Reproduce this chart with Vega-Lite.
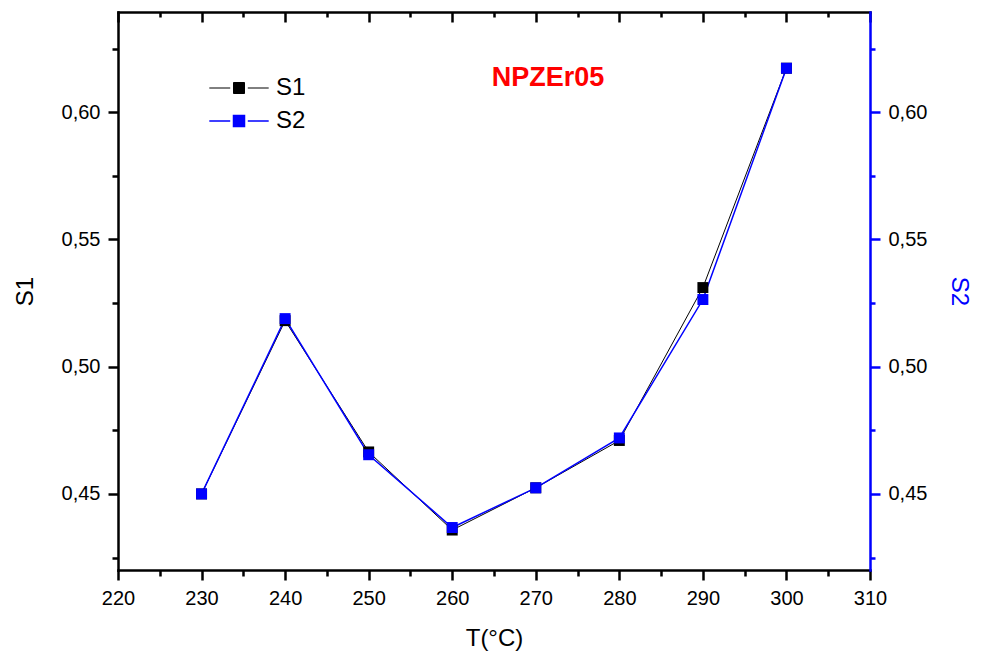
{
  "$schema": "https://vega.github.io/schema/vega-lite/v6.json",
  "width": 752,
  "height": 558,
  "autosize": "none",
  "padding": {"left": 118, "top": 12, "right": 111, "bottom": 83},
  "background": "white",
  "title": {
    "text": "NPZEr05",
    "color": "#ff0000",
    "fontSize": 27,
    "fontWeight": "bold",
    "font": "Liberation Sans",
    "anchor": "middle",
    "frame": "group",
    "baseline": "middle",
    "offset": 0,
    "dx": 54,
    "dy": 94
  },
  "data": {
    "values": [
      {"T": 230, "value": 0.4500, "series": "S1"},
      {"T": 240, "value": 0.5181, "series": "S1"},
      {"T": 250, "value": 0.4665, "series": "S1"},
      {"T": 260, "value": 0.4358, "series": "S1"},
      {"T": 270, "value": 0.4524, "series": "S1"},
      {"T": 280, "value": 0.4710, "series": "S1"},
      {"T": 290, "value": 0.5311, "series": "S1"},
      {"T": 300, "value": 0.6173, "series": "S1"},
      {"T": 230, "value": 0.4500, "series": "S2"},
      {"T": 240, "value": 0.5189, "series": "S2"},
      {"T": 250, "value": 0.4654, "series": "S2"},
      {"T": 260, "value": 0.4368, "series": "S2"},
      {"T": 270, "value": 0.4524, "series": "S2"},
      {"T": 280, "value": 0.4720, "series": "S2"},
      {"T": 290, "value": 0.5264, "series": "S2"},
      {"T": 300, "value": 0.6173, "series": "S2"}
    ]
  },
  "config": {
    "font": "Liberation Sans",
    "view": {"stroke": null},
    "axis": {
      "grid": false,
      "labelFont": "Liberation Sans",
      "titleFont": "Liberation Sans",
      "labelFontSize": 20,
      "titleFontSize": 24,
      "titleFontWeight": "normal",
      "labelColor": "#000000",
      "titleColor": "#000000",
      "domainColor": "#000000",
      "tickColor": "#000000",
      "domainWidth": 2.5,
      "tickWidth": 2.5,
      "domainCap": "square"
    }
  },
  "resolve": {"axis": {"x": "independent", "y": "independent"}},
  "layer": [
    {
      "mark": {"type": "line", "clip": false},
      "encoding": {
        "x": {
          "field": "T", "type": "quantitative",
          "scale": {"domain": [220, 310], "nice": false, "zero": false},
          "axis": {
            "orient": "bottom", "values": [220, 230, 240, 250, 260, 270, 280, 290, 300, 310],
            "tickSize": 10, "labelPadding": 8, "title": "T(°C)", "titlePadding": 18,
            "labelFlush": false
          }
        },
        "y": {
          "field": "value", "type": "quantitative",
          "scale": {"domain": [0.4201, 0.6394], "nice": false, "zero": false},
          "axis": {
            "orient": "left", "values": [0.45, 0.5, 0.55, 0.6],
            "labelExpr": "replace(format(datum.value, '.2f'), '.', ',')",
            "tickSize": 10, "labelPadding": 8, "title": "S1", "titlePadding": 24
          }
        },
        "color": {
          "field": "series", "type": "nominal",
          "scale": {"domain": ["S1", "S2"], "range": ["#000000", "#0000ff"]},
          "legend": {
            "orient": "none",
            "legendX": 109,
            "legendY": 64,
            "title": null,
            "symbolType": "M-5.4,0H-1.6M1.6,0H5.4M-1,-1H1V1H-1Z",
            "symbolSize": 121,
            "labelFontSize": 24,
            "labelFont": "Liberation Sans",
            "labelColor": "#000000",
            "labelOffset": 25,
            "rowPadding": 9,
            "encode": {
              "symbols": {
                "update": {
                  "shape": {"value": "M-5.4,0H-1.6M1.6,0H5.4M-1,-1H1V1H-1Z"},
                  "fill": {"scale": "color", "field": "value"},
                  "stroke": {"scale": "color", "field": "value"},
                  "strokeWidth": {"signal": "datum.value == 'S2' ? 1.5 : 1"},
                  "opacity": {"value": 1},
                  "fillOpacity": {"value": 1},
                  "strokeOpacity": {"value": 1}
                }
              }
            }
          }
        },
        "strokeWidth": {
          "field": "series", "type": "nominal",
          "scale": {"domain": ["S1", "S2"], "range": [1, 1.5]},
          "legend": null
        }
      }
    },
    {
      "transform": [{"filter": "datum.series == 'S1'"}],
      "mark": {"type": "point", "shape": "square", "filled": true, "size": 120, "opacity": 1, "clip": false},
      "encoding": {
        "x": {
          "field": "T", "type": "quantitative",
          "axis": {
            "orient": "bottom", "values": [225, 235, 245, 255, 265, 275, 285, 295, 305],
            "tickSize": 6, "labels": false, "domain": false, "title": null
          }
        },
        "y": {
          "field": "value", "type": "quantitative",
          "axis": {
            "orient": "left", "values": [0.425, 0.475, 0.525, 0.575, 0.625],
            "tickSize": 6, "labels": false, "domain": false, "title": null
          }
        },
        "color": {"field": "series", "type": "nominal"}
      }
    },
    {
      "transform": [{"filter": "datum.series == 'S2'"}],
      "mark": {"type": "point", "shape": "square", "filled": true, "size": 120, "opacity": 1, "clip": false},
      "encoding": {
        "x": {
          "field": "T", "type": "quantitative",
          "axis": {
            "orient": "top", "values": [220, 230, 240, 250, 260, 270, 280, 290, 300, 310],
            "tickSize": -10, "labels": false, "title": null
          }
        },
        "y": {
          "field": "value", "type": "quantitative",
          "axis": {
            "orient": "right", "values": [0.45, 0.5, 0.55, 0.6],
            "labelExpr": "replace(format(datum.value, '.2f'), '.', ',')",
            "tickSize": 10, "labelPadding": 8, "title": "S2", "titlePadding": 20,
            "domainColor": "#0000ff", "tickColor": "#0000ff", "titleColor": "#0000ff"
          }
        },
        "color": {"field": "series", "type": "nominal"}
      }
    },
    {
      "transform": [{"filter": "datum.series == 'S2'"}],
      "mark": {"type": "point", "opacity": 0, "clip": false},
      "encoding": {
        "x": {
          "field": "T", "type": "quantitative",
          "axis": {
            "orient": "top", "values": [225, 235, 245, 255, 265, 275, 285, 295, 305],
            "tickSize": -5, "labels": false, "domain": false, "title": null
          }
        },
        "y": {
          "field": "value", "type": "quantitative",
          "axis": {
            "orient": "right", "values": [0.425, 0.475, 0.525, 0.575, 0.625],
            "tickSize": 5, "labels": false, "domain": false, "title": null,
            "tickColor": "#0000ff"
          }
        }
      }
    }
  ]
}
